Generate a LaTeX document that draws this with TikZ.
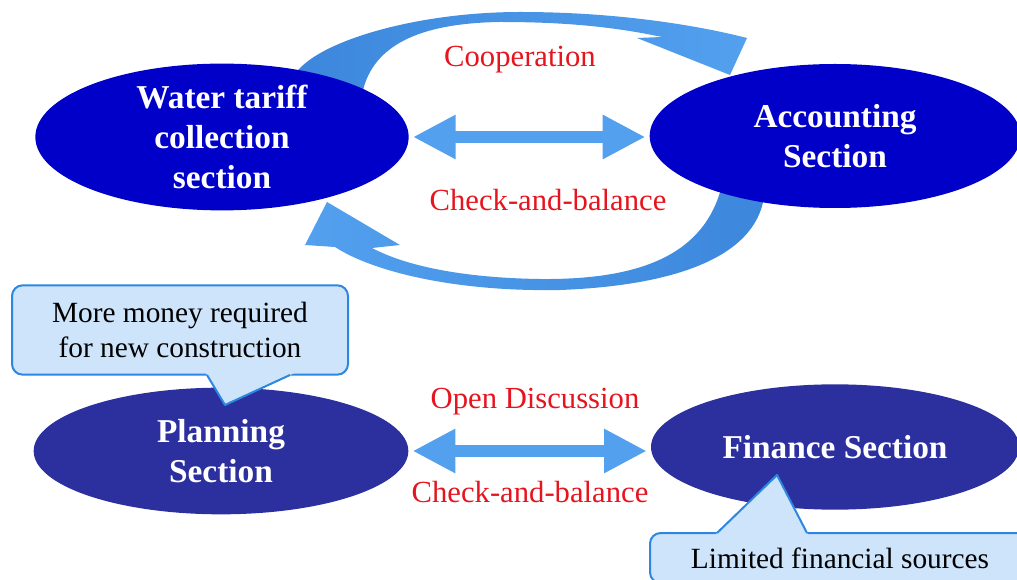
\documentclass[tikz,border=0pt]{standalone}
\usepackage{fontspec}
\setmainfont{Liberation Serif}
\usetikzlibrary{shapes.geometric,arrows.meta}
\definecolor{sectblue}{RGB}{0,0,200}
\definecolor{sectnavy}{RGB}{44,48,158}
\definecolor{arcblue}{RGB}{82,160,238}
\definecolor{arcdark}{RGB}{60,135,220}
\definecolor{notefill}{RGB}{205,228,250}
\definecolor{noteline}{RGB}{45,135,225}
\definecolor{labelred}{RGB}{230,20,30}
\begin{document}
\begin{tikzpicture}[x=0.75pt, y=-0.75pt,
    section/.style={ellipse, inner sep=0pt, text=white, align=center,
      font=\fontsize{25}{30}\selectfont\bfseries},
    link/.style={text=labelred, font=\fontsize{23}{27}\selectfont},
    both/.style={arcblue, line width=9pt, shorten <=3pt, shorten >=3pt,
      {Triangle[width=31pt,length=32pt]}-{Triangle[width=31pt,length=32pt]}},
    note/.style={draw=noteline, fill=notefill, line width=1.5pt,
      rounded corners=8pt, align=center, font=\fontsize{22}{26}\selectfont}]

    \clip (0,0) rectangle (1017,580);

    \shade[left color=arcdark, right color=arcblue]
        (292,80) .. controls (305,45) and (410,12) .. (520,12)
        .. controls (620,12) and (700,26) .. (747,38) -- (730,75) -- (637,38) -- (662,37)
        .. controls (610,26) and (560,22) .. (500,22)
        .. controls (430,23) and (372,40) .. (362,95) -- cycle;
    \shade[left color=arcblue, right color=arcdark]
        (765,185) .. controls (765,250) and (690,285) .. (560,290)
        .. controls (450,292) and (370,270) .. (335,247) -- (305,245) -- (327,202) -- (400,245) -- (372,248)
        .. controls (410,268) and (470,278) .. (540,279)
        .. controls (640,280) and (705,255) .. (722,185) -- cycle;

    \node (water) at (222,137) [section, fill=sectblue, minimum width=280pt, minimum height=109pt] {Water tariff\\collection\\section};
    \node (account) at (835,136) [section, fill=sectblue, minimum width=278pt, minimum height=108pt] {Accounting\\Section};
    \node (planning) at (221,451) [section, fill=sectnavy, minimum width=281pt, minimum height=95pt] {Planning\\Section};
    \node (finance) at (835,447) [section, fill=sectnavy, minimum width=276pt, minimum height=94pt] {Finance Section};

    \draw[both] (water.east) -- (water.east -| account.west);
    \draw[both] (planning.east) -- (planning.east -| finance.west);

    \node (coop) at (520,60) [link] {Cooperation};
    \node (check1) at (548,200) [link] {Check-and-balance};
    \node (open) at (535,402) [link] {Open Discussion};
    \node (check2) at (530,492) [link] {Check-and-balance};

    \node (money) at (180,330) [note, minimum width=252pt, minimum height=67pt] {More money required\\for new construction};
    \coordinate (moneytip) at (225,405);
    \fill[notefill] (204.6,371) -- (moneytip) -- (298.7,371) -- cycle;
    \draw[noteline, line width=1.5pt, line join=round] (207,375) -- (moneytip) -- (290,375);

    \node (limits) at (840,558) [note, minimum width=285pt, minimum height=37.5pt] {Limited financial sources};
    \coordinate (limitstip) at (777,475);
    \fill[notefill] (712.9,537) -- (limitstip) -- (809.1,537) -- cycle;
    \draw[noteline, line width=1.5pt, line join=round] (717,533) -- (limitstip) -- (807,533);

\end{tikzpicture}
\end{document}
